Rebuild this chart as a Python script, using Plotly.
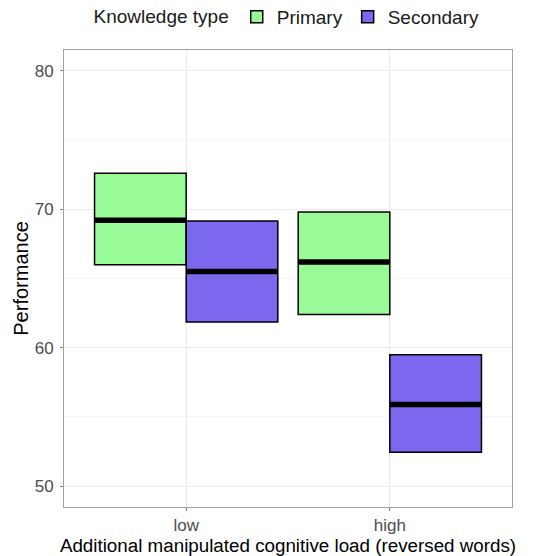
import plotly.graph_objects as go

categories = ["low", "high"]
series_names = ["Primary", "Secondary"]
colors = ["#98FB98", "#7B68EE"]
lower = {"Primary": [66.0, 62.4], "Secondary": [61.85, 52.45]}
median = {"Primary": [69.2, 66.2], "Secondary": [65.5, 55.9]}
upper = {"Primary": [72.6, 69.8], "Secondary": [69.15, 59.5]}
y_ticks = [50, 60, 70, 80]

dodge = 0.9
bar_w = dodge / len(series_names)
xpos = list(range(1, len(categories) + 1))

fig = go.Figure()
for si, name in enumerate(series_names):
    off = -dodge / 2 + bar_w * (si + 0.5)
    xs = [x + off for x in xpos]
    fig.add_trace(go.Bar(
        x=xs, y=[u - l for u, l in zip(upper[name], lower[name])],
        base=lower[name], width=bar_w, name=name,
        marker=dict(color=colors[si], line=dict(color="black", width=1.5)),
        hoverinfo="skip"))
for si, name in enumerate(series_names):
    off = -dodge / 2 + bar_w * (si + 0.5)
    for x, m in zip(xpos, median[name]):
        fig.add_trace(go.Scatter(
            x=[x + off - bar_w / 2, x + off + bar_w / 2], y=[m, m],
            mode="lines", line=dict(color="black", width=5.5),
            showlegend=False, hoverinfo="skip"))

fig.update_layout(
    width=533, height=556,
    margin=dict(l=64, r=21, t=50, b=49, autoexpand=False),
    plot_bgcolor="white", paper_bgcolor="white",
    barmode="overlay",
    font=dict(family="Liberation Sans, Arial", size=18, color="#1A1A1A"),
    legend=dict(orientation="h", x=0.5, xanchor="center",
                yref="container", y=1 - 17 / 556, yanchor="middle",
                title=dict(text="Knowledge type", side="left", font=dict(size=19)),
                font=dict(size=19), itemwidth=30, tracegroupgap=0),
    showlegend=True,
)
fig.update_xaxes(
    range=[0.4, 2.6], tickvals=xpos, ticktext=categories, automargin=False,
    title=dict(text="Additional manipulated cognitive load (reversed words)", standoff=4,
               font=dict(size=18.8, color="black")),
    tickfont=dict(size=17, color="#4D4D4D"),
    ticks="outside", ticklen=3, tickcolor="#7F7F7F",
    showgrid=True, gridcolor="#EBEBEB", gridwidth=1,
    showline=True, linecolor="#A0A0A0", linewidth=1, mirror=True, zeroline=False)
fig.update_yaxes(
    range=[48.5, 81.5], tickvals=y_ticks, automargin=False,
    title=dict(text="Performance", standoff=0, font=dict(size=20, color="black")),
    tickfont=dict(size=17, color="#4D4D4D"), ticklabelstandoff=3,
    ticks="outside", ticklen=3, tickcolor="#7F7F7F",
    showgrid=True, gridcolor="#EBEBEB", gridwidth=1,
    minor=dict(dtick=5, tick0=55, showgrid=True, gridcolor="#F5F5F5", gridwidth=0.6),
    showline=True, linecolor="#A0A0A0", linewidth=1, mirror=True, zeroline=False)

fig.write_html("out.html", config={"displayModeBar": False},
               post_script="document.body.style.margin='0';document.body.style.overflow='hidden';")
